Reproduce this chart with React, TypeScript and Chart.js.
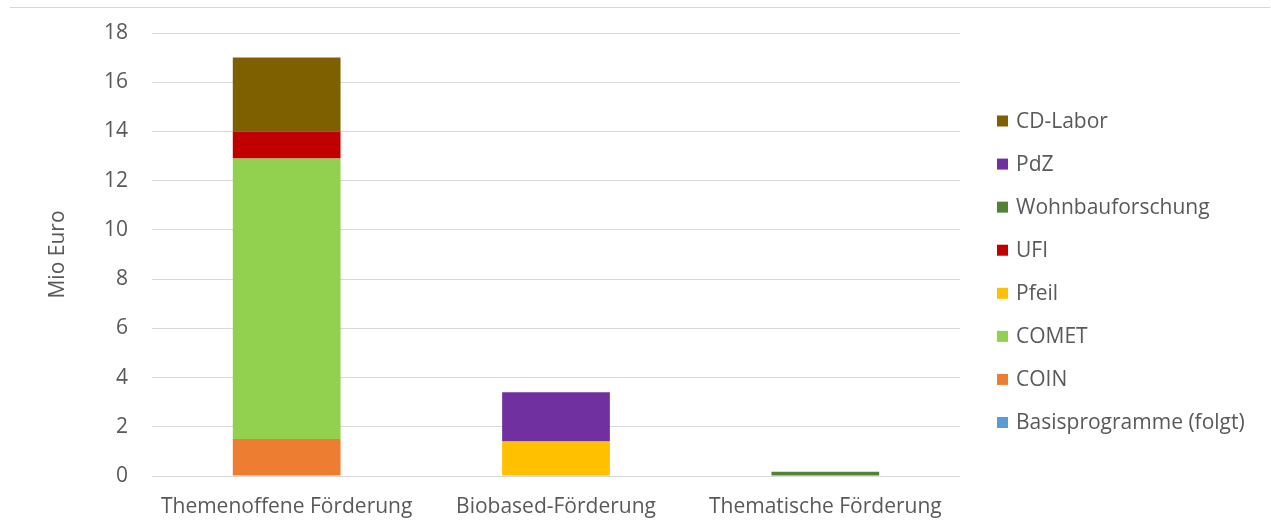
import React, { useEffect, useRef } from "react";
import { Chart, registerables } from "chart.js";

Chart.register(...registerables);

const categories = ["Themenoffene Förderung", "Biobased-Förderung", "Thematische Förderung"];
const basisprogramme = [0, 0, 0];
const coin = [1.5, 0, 0];
const comet = [11.4, 0, 0];
const pfeil = [0, 1.4, 0];
const ufi = [1.1, 0, 0];
const wohnbauforschung = [0, 0, 0.17];
const pdz = [0, 2.0, 0];
const cdLabor = [3.0, 0, 0];
const yTicks = [0, 2, 4, 6, 8, 10, 12, 14, 16, 18];

const FONT = "'Open Sans'";
const FS = 21;
const TEXT = "#595959";
const GRID = "#d9d9d9";

const topLinePlugin = {
  id: "topLine",
  beforeDraw(chart: any) {
    const ctx = chart.ctx;
    ctx.save();
    ctx.strokeStyle = GRID;
    ctx.lineWidth = 1;
    ctx.beginPath();
    ctx.moveTo(10, 7.5);
    ctx.lineTo(1270, 7.5);
    ctx.stroke();
    ctx.restore();
  },
};

const legendPlugin = {
  id: "customLegend",
  afterDraw(chart: any) {
    const ctx = chart.ctx;
    const ds = chart.data.datasets.slice().reverse();
    ctx.save();
    ctx.font = `${FS}px ${FONT}`;
    ctx.textBaseline = "middle";
    ctx.textAlign = "left";
    const x0 = 997;
    const y0 = 121;
    const step = 43.07;
    ds.forEach((d: any, i: number) => {
      const y = y0 + i * step;
      ctx.fillStyle = d.backgroundColor;
      ctx.fillRect(x0, y - 5.5, 11, 11);
      ctx.fillStyle = TEXT;
      ctx.fillText(d.label, 1016, y + 1);
    });
    ctx.restore();
  },
};

export default function App() {
  const ref = useRef<HTMLCanvasElement>(null);
  useEffect(() => {
    const mk = (label: string, data: number[], color: string) => ({
      label,
      data,
      backgroundColor: color,
      borderWidth: 0,
      categoryPercentage: 1,
      barPercentage: 0.4,
    });
    const chart = new Chart(ref.current!, {
      type: "bar",
      data: {
        labels: categories,
        datasets: [
          mk("Basisprogramme (folgt)", basisprogramme, "#5B9BD5"),
          mk("COIN", coin, "#ED7D31"),
          mk("COMET", comet, "#92D050"),
          mk("Pfeil", pfeil, "#FFC000"),
          mk("UFI", ufi, "#C00000"),
          mk("Wohnbauforschung", wohnbauforschung, "#548235"),
          mk("PdZ", pdz, "#7030A0"),
          mk("CD-Labor", cdLabor, "#7F6000"),
        ],
      },
      options: {
        animation: false,
        responsive: false,
        layout: { padding: { top: 33, right: 311, left: 0, bottom: 0 } },
        plugins: { legend: { display: false }, tooltip: { enabled: false } },
        scales: {
          x: {
            stacked: true,
            grid: { display: false, drawTicks: false },
            border: { display: false },
            ticks: { color: TEXT, font: { family: FONT, size: FS }, padding: 18 },
            afterFit: (s: any) => { s.height = 46; s.paddingLeft = 0; s.paddingRight = 0; },
          },
          y: {
            stacked: true,
            min: 0,
            max: 18,
            afterBuildTicks: (s: any) => { s.ticks = yTicks.map((v) => ({ value: v })); },
            grid: { color: GRID, drawTicks: false },
            border: { display: false },
            ticks: { color: TEXT, font: { family: FONT, size: FS }, padding: 24 },
            title: {
              display: true,
              text: "Mio Euro",
              color: TEXT,
              font: { family: FONT, size: FS },
              padding: { top: 45, bottom: 0 },
            },
            afterFit: (s: any) => { s.width = 152; s.paddingTop = 0; s.paddingBottom = 0; },
          },
        },
      },
      plugins: [topLinePlugin, legendPlugin],
    });
    return () => chart.destroy();
  }, []);
  return (
    <div style={{ position: "fixed", left: 0, top: 0, width: 1271, height: 522, background: "#fff" }}>
      <canvas ref={ref} width={1271} height={522} style={{ display: "block" }} />
    </div>
  );
}
